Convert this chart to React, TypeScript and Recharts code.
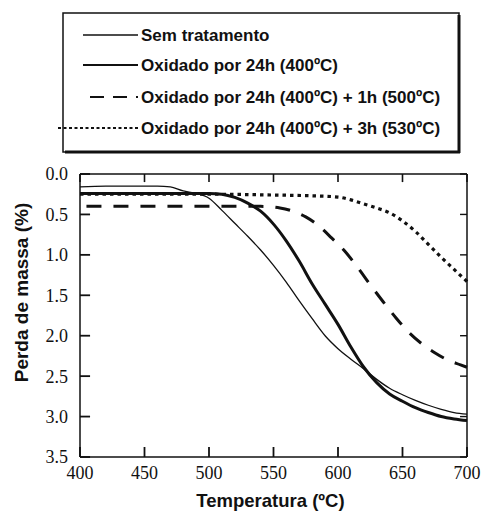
import { LineChart, Line, XAxis, YAxis, ReferenceLine } from "recharts";

// Perda de massa (%) vs temperatura (ºC)
const semTratTemps = [400, 420, 440, 460, 470, 480, 490, 500, 510, 520, 530, 540, 550, 560, 570, 580, 590, 600, 610, 620, 630, 640, 650, 660, 670, 680, 690, 700];
const semTratVals = [0.16, 0.15, 0.15, 0.15, 0.16, 0.21, 0.24, 0.3, 0.45, 0.61, 0.77, 0.94, 1.13, 1.34, 1.57, 1.79, 2.0, 2.16, 2.29, 2.41, 2.54, 2.65, 2.73, 2.8, 2.86, 2.91, 2.95, 2.97];

const oxi24Temps = [400, 450, 500, 510, 520, 530, 540, 550, 560, 570, 580, 590, 600, 610, 620, 630, 640, 650, 660, 670, 680, 690, 700];
const oxi24Vals = [0.24, 0.24, 0.24, 0.25, 0.29, 0.36, 0.46, 0.62, 0.83, 1.08, 1.36, 1.61, 1.86, 2.14, 2.39, 2.58, 2.72, 2.81, 2.89, 2.95, 3.0, 3.03, 3.05];

const oxi1hTemps = [405, 450, 500, 540, 555, 565, 575, 585, 595, 605, 615, 625, 635, 645, 655, 665, 675, 685, 695, 700];
const oxi1hVals = [0.4, 0.4, 0.4, 0.4, 0.42, 0.46, 0.53, 0.64, 0.79, 0.95, 1.15, 1.37, 1.58, 1.78, 1.96, 2.1, 2.21, 2.3, 2.36, 2.39];

const oxi3hTemps = [400, 500, 550, 580, 600, 610, 620, 630, 640, 650, 660, 670, 680, 690, 700];
const oxi3hVals = [0.25, 0.25, 0.26, 0.27, 0.285, 0.32, 0.37, 0.42, 0.48, 0.58, 0.71, 0.87, 1.03, 1.18, 1.33];

const xTicks = [400, 450, 500, 550, 600, 650, 700];
const yTicks = [0, 0.5, 1, 1.5, 2, 2.5, 3, 3.5];

const toRows = (t: number[], v: number[]) => t.map((temp, i) => ({ temp, val: v[i] }));

const series = [
  { name: "Sem tratamento", data: toRows(semTratTemps, semTratVals), width: 1.3, dash: undefined },
  { name: "Oxidado por 24h (400ºC)", data: toRows(oxi24Temps, oxi24Vals), width: 3, dash: undefined },
  { name: "Oxidado por 24h (400ºC) + 1h (500ºC)", data: toRows(oxi1hTemps, oxi1hVals), width: 3, dash: "15 12" },
  { name: "Oxidado por 24h (400ºC) + 3h (530ºC)", data: toRows(oxi3hTemps, oxi3hVals), width: 3.2, dash: "3.5 4" },
];

const INK = "#111";
const SANS = "Liberation Sans";
const SERIF = "Liberation Serif";

// plot frame (matches the chart margins below)
const TOP = 174;
const LEFT = 80;
const RIGHT = 467;
const BOTTOM = 457;

// inward tick lengths in data units (about 10px / 8px / 7px)
const X_MIN = 400, X_MAX = 700, Y_MIN = 0, Y_MAX = 3.5;
const tickLenY = 0.124;
const tickLenYTop = 0.1;
const tickLenX = 7.8;
const tickLenXRight = 5.4;

const legendRows = [
  { y: 35, x1: 83, w: 1.3, dash: undefined },
  { y: 65, x1: 83, w: 1.8, dash: undefined },
  { y: 97, x1: 90, w: 2, dash: "14 9" },
  { y: 128, x1: 58, w: 2.2, dash: "3 2.5" },
];

function Overlay() {
  const yMid = (TOP + BOTTOM) / 2 - 23;
  return (
    <svg width={484} height={512} style={{ position: "absolute", left: 0, top: 0, pointerEvents: "none" }}>
      <line x1={LEFT} x2={RIGHT} y1={TOP} y2={TOP} stroke={INK} strokeWidth={1.3} />
      <line x1={RIGHT} x2={RIGHT} y1={TOP} y2={BOTTOM} stroke={INK} strokeWidth={1.5} />
      <text x={(LEFT + RIGHT) / 2 - 3} y={507} textAnchor="middle" fontFamily={SANS} fontWeight="bold" fontSize={18.5} fill={INK}>
        Temperatura (ºC)
      </text>
      <text x={28} y={yMid} textAnchor="middle" transform={`rotate(-90 28 ${yMid})`}
        fontFamily={SANS} fontWeight="bold" fontSize={19} fill={INK}>
        Perda de massa (%)
      </text>
      <rect x={63} y={13} width={396} height={139} fill="#fff" stroke={INK} strokeWidth={1.5} />
      <line x1={459} y1={15} x2={459} y2={153} stroke={INK} strokeWidth={3} />
      <line x1={65} y1={152} x2={460} y2={152} stroke={INK} strokeWidth={3} />
      {series.map((s, i) => {
        const r = legendRows[i];
        return (
          <g key={s.name}>
            <line x1={r.x1} x2={138} y1={r.y} y2={r.y} stroke={INK} strokeWidth={r.w} strokeDasharray={r.dash} />
            <text x={141} y={r.y} dy="0.36em" fontFamily={SANS} fontWeight="bold" fontSize={17} fill={INK}>
              {s.name}
            </text>
          </g>
        );
      })}
    </svg>
  );
}

export default function App() {
  return (
    <div style={{ position: "absolute", left: 0, top: 0, width: 484, height: 512, background: "#fff" }}>
      <LineChart width={484} height={512} margin={{ top: TOP, right: 484 - RIGHT, bottom: 0, left: 0 }}>
        <XAxis
          xAxisId="b"
          type="number"
          dataKey="temp"
          domain={[X_MIN, X_MAX]}
          ticks={xTicks}
          interval={0}
          height={512 - BOTTOM}
          axisLine={{ stroke: INK, strokeWidth: 1.5 }}
          tickLine={false}
          tickSize={0}
          tickMargin={9}
          tick={{ fontFamily: SERIF, fontSize: 18, fill: INK }}
        />
        <YAxis
          yAxisId="l"
          type="number"
          domain={[Y_MIN, Y_MAX]}
          reversed
          ticks={yTicks}
          interval={0}
          width={LEFT}
          axisLine={{ stroke: INK, strokeWidth: 1.5 }}
          tickLine={false}
          tickSize={0}
          tickMargin={12}
          tickFormatter={(v: number) => v.toFixed(1)}
          tick={{ fontFamily: SERIF, fontSize: 18, fill: INK }}
        />
        {xTicks.map((t) => (
          <ReferenceLine key={`xb${t}`} xAxisId="b" yAxisId="l" stroke={INK} strokeWidth={1.8}
            segment={[{ x: t, y: Y_MAX }, { x: t, y: Y_MAX - tickLenY }]} />
        ))}
        {xTicks.map((t) => (
          <ReferenceLine key={`xt${t}`} xAxisId="b" yAxisId="l" stroke={INK} strokeWidth={1.6}
            segment={[{ x: t, y: Y_MIN }, { x: t, y: Y_MIN + tickLenYTop }]} />
        ))}
        {yTicks.map((t) => (
          <ReferenceLine key={`yl${t}`} xAxisId="b" yAxisId="l" stroke={INK} strokeWidth={1.8}
            segment={[{ x: X_MIN, y: t }, { x: X_MIN + tickLenX, y: t }]} />
        ))}
        {yTicks.map((t) => (
          <ReferenceLine key={`yr${t}`} xAxisId="b" yAxisId="l" stroke={INK} strokeWidth={1.4}
            segment={[{ x: X_MAX, y: t }, { x: X_MAX - tickLenXRight, y: t }]} />
        ))}
        {series.map((s) => (
          <Line
            key={s.name}
            xAxisId="b"
            yAxisId="l"
            data={s.data}
            dataKey="val"
            type="monotone"
            stroke={INK}
            strokeWidth={s.width}
            strokeDasharray={s.dash}
            dot={false}
            isAnimationActive={false}
          />
        ))}
      </LineChart>
      <Overlay />
    </div>
  );
}
